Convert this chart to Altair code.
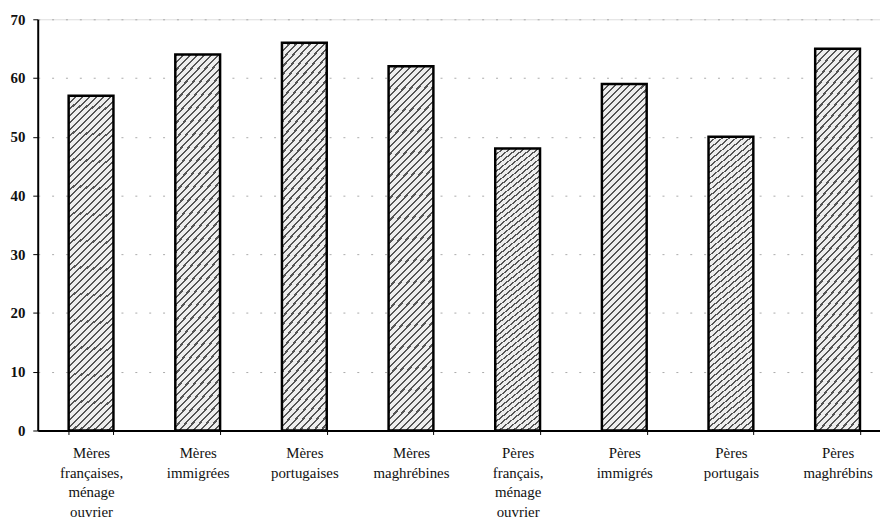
import altair as alt
import pandas as pd

categories = [
    "Mères\nfrançaises,\nménage\nouvrier",
    "Mères\nimmigrées",
    "Mères\nportugaises",
    "Mères\nmaghrébines",
    "Pères\nfrançais,\nménage\nouvrier",
    "Pères\nimmigrés",
    "Pères\nportugais",
    "Pères\nmaghrébins",
]
values = [57, 64, 66, 62, 48, 59, 50, 65]
y_ticks = [0, 10, 20, 30, 40, 50, 60, 70]

df = pd.DataFrame({"cat": categories, "val": values})

# diagonal hatch simulated by a striped linear gradient (style only)
w, h = 45.0, 350.0
k = (w + h) / (w * w + h * h)
n_stripes = 56
duty = 0.3
dark, light = "#555555", "#eeeeee"
stops = []
for i in range(n_stripes):
    a = i / n_stripes
    b = (i + duty) / n_stripes
    c = (i + 1) / n_stripes
    stops += [
        {"offset": a, "color": dark},
        {"offset": b, "color": dark},
        {"offset": b, "color": light},
        {"offset": c, "color": light},
    ]
hatch = {"gradient": "linear", "x1": 0, "y1": 0, "x2": w * k, "y2": h * k, "stops": stops}

chart = (
    alt.Chart(df)
    .mark_bar(fill=hatch, stroke="black", strokeWidth=2.5)
    .encode(
        x=alt.X(
            "cat:N",
            sort=categories,
            scale=alt.Scale(paddingInner=0.58, paddingOuter=0.29, range=[0, 861]),
            axis=alt.Axis(
                title=None,
                labelAngle=0,
                labelExpr="split(datum.label, '\\n')",
                labelFont="Liberation Serif",
                labelFontSize=15,
                labelColor="#111",
                labelPadding=11,
                labelLineHeight=20,
                domainColor="black",
                domainWidth=2,
                tickColor="black",
                tickSize=4,
                tickBand="extent",
                grid=False,
            ),
        ),
        y=alt.Y(
            "val:Q",
            scale=alt.Scale(domain=[0, 70], nice=False),
            axis=alt.Axis(
                title=None,
                values=y_ticks,
                labelFont="Liberation Serif",
                labelFontSize=15,
                labelFontWeight="bold",
                labelColor="#111",
                labelPadding=8,
                domainColor="black",
                domainWidth=2,
                tickColor="black",
                tickSize=5,
                grid=True,
                gridColor="#aaa",
                gridDash=[2, 12],
                gridWidth=1,
            ),
        ),
    )
    .properties(
        width=850,
        height=415,
        autosize=alt.AutoSizeParams(type="none"),
        padding={"left": 30, "top": 9, "right": 0, "bottom": 97},
    )
    .configure_view(stroke=None)
    .configure(background="white")
)

chart.save("out.html", embed_options={"renderer": "svg", "actions": False})
